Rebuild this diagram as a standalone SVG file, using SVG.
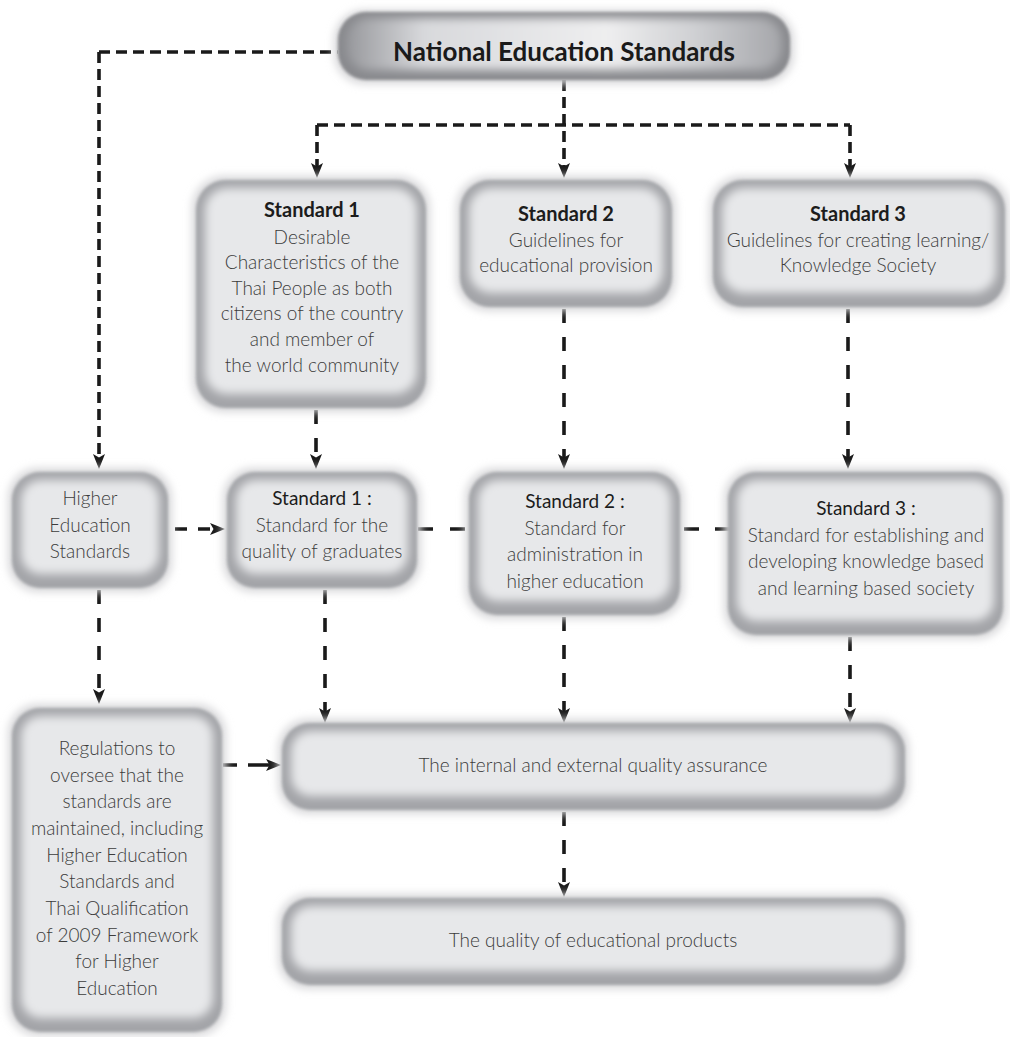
<svg xmlns="http://www.w3.org/2000/svg" width="1010" height="1037" viewBox="0 0 1010 1037">
<style>
.t{font-family:Lato,"Liberation Sans",sans-serif;font-size:19px;font-weight:300;fill:#3c3c3c;text-anchor:middle}
.h{font-weight:700;font-size:20px;fill:#1c1c1c}
.m{font-weight:400;fill:#1c1c1c}
.title{font-family:Lato,"Liberation Sans",sans-serif;font-weight:700;font-size:26px;fill:#1a1a1a;text-anchor:middle}
.glow{fill:#d8d8da;filter:url(#b4)}
.edge{fill:#a3a4a8;filter:url(#b1)}
.face{fill:#e7e8ea;filter:url(#b5)}
.c{fill:none;stroke:#1a1a1a;stroke-width:3.6}
.c1{stroke-dasharray:11 6}
.c2{stroke-dasharray:14 14}
.ar{marker-end:url(#ah)}
</style>
<defs>
<filter id="b1" x="-10%" y="-10%" width="120%" height="120%"><feGaussianBlur stdDeviation="1.5"/></filter>
<filter id="b4" x="-20%" y="-20%" width="140%" height="140%"><feGaussianBlur stdDeviation="4"/></filter>
<filter id="b5" x="-20%" y="-20%" width="140%" height="140%"><feGaussianBlur stdDeviation="5"/></filter>
<linearGradient id="metal" x1="0" y1="0" x2="1" y2="0">
<stop offset="0" stop-color="#97989c"/>
<stop offset="0.18" stop-color="#d8d9dc"/>
<stop offset="0.6" stop-color="#eeeeef"/>
<stop offset="0.8" stop-color="#cfd0d3"/>
<stop offset="1" stop-color="#a5a6aa"/>
</linearGradient>
<marker id="ah" markerUnits="userSpaceOnUse" markerWidth="16" markerHeight="14" refX="6" refY="6.5" orient="auto" viewBox="0 0 16 14">
<path d="M0,0.5 L15,6.5 L0,12.5 L3.5,6.5 Z" fill="#1a1a1a"/>
</marker>
</defs>
<rect width="1010" height="1037" fill="#ffffff"/>

<g id="connectors">
<path class="c c1" d="M99,52 H338"/>
<path class="c c1 ar" d="M99,52 V460"/>
<path class="c c1 ar" d="M564,80 V169"/>
<path class="c c1" d="M317,125 H850"/>
<path class="c c1 ar" d="M317,125 V169"/>
<path class="c c1 ar" d="M850,125 V169"/>
<path class="c c2 ar" d="M316,410 V460"/>
<path class="c c2 ar" d="M564,309 V460"/>
<path class="c c2 ar" d="M848,309 V460"/>
<path class="c ar" style="stroke-dasharray:12 11" d="M175,529 H216"/>
<path class="c" style="stroke-dasharray:15 17" d="M418,529 H468"/>
<path class="c" style="stroke-dasharray:15 16" d="M684,529 H730"/>
<path class="c c2 ar" d="M99,590 V695"/>
<path class="c c2 ar" d="M325,590 V714"/>
<path class="c c2 ar" d="M564,617 V714"/>
<path class="c c2 ar" d="M850,637 V714"/>
<path class="c ar" style="stroke-dasharray:14 11 30" d="M223,765 H272"/>
<path class="c c2 ar" d="M564,812 V888"/>
</g>

<g id="national">
<rect class="glow" x="334" y="10" width="460" height="74" rx="30"/>
<rect x="338" y="12" width="452" height="68" rx="28" fill="#88898d" filter="url(#b1)"/>
<rect x="346" y="18" width="436" height="52" rx="22" fill="url(#metal)" filter="url(#b5)"/>
<text class="title" x="564" y="61">National Education Standards</text>
</g>

<g id="std1-top">
<rect class="glow" x="192" y="176" width="238" height="236" rx="32"/>
<rect class="edge" x="196" y="180" width="230" height="228" rx="30"/>
<rect class="face" x="205" y="188" width="212" height="206" rx="22"/>
<text class="t h" x="312" y="217">Standard 1</text>
<text class="t" x="312" y="244">Desirable</text>
<text class="t" x="312" y="269">Characteristics of the</text>
<text class="t" x="312" y="295">Thai People as both</text>
<text class="t" x="312" y="320">citizens of the country</text>
<text class="t" x="312" y="346">and member of</text>
<text class="t" x="312" y="372">the world community</text>
</g>

<g id="std2-top">
<rect class="glow" x="456" y="176" width="220" height="135" rx="32"/>
<rect class="edge" x="460" y="180" width="212" height="127" rx="30"/>
<rect class="face" x="469" y="188" width="194" height="105" rx="22"/>
<text class="t h" x="566" y="221">Standard 2</text>
<text class="t" x="566" y="247">Guidelines for</text>
<text class="t" x="566" y="272">educational provision</text>
</g>

<g id="std3-top">
<rect class="glow" x="709" y="176" width="300" height="135" rx="32"/>
<rect class="edge" x="713" y="180" width="292" height="127" rx="30"/>
<rect class="face" x="722" y="188" width="274" height="105" rx="22"/>
<text class="t h" x="858" y="221">Standard 3</text>
<text class="t" x="858" y="247">Guidelines for creating learning/</text>
<text class="t" x="858" y="272">Knowledge Society</text>
</g>

<g id="higher-ed">
<rect class="glow" x="8" y="468" width="164" height="124" rx="30"/>
<rect class="edge" x="12" y="472" width="156" height="116" rx="28"/>
<rect class="face" x="21" y="480" width="138" height="94" rx="20"/>
<text class="t" x="90" y="505">Higher</text>
<text class="t" x="90" y="532">Education</text>
<text class="t" x="90" y="558">Standards</text>
</g>

<g id="std1-hes">
<rect class="glow" x="223" y="468" width="198" height="124" rx="30"/>
<rect class="edge" x="227" y="472" width="190" height="116" rx="28"/>
<rect class="face" x="236" y="480" width="172" height="94" rx="20"/>
<text class="t m" x="322" y="505">Standard 1 :</text>
<text class="t" x="322" y="532">Standard for the</text>
<text class="t" x="322" y="558">quality of graduates</text>
</g>

<g id="std2-hes">
<rect class="glow" x="465" y="468" width="219" height="151" rx="30"/>
<rect class="edge" x="469" y="472" width="211" height="143" rx="28"/>
<rect class="face" x="478" y="480" width="193" height="121" rx="20"/>
<text class="t m" x="575" y="508">Standard 2 :</text>
<text class="t" x="575" y="535">Standard for</text>
<text class="t" x="575" y="561">administration in</text>
<text class="t" x="575" y="588">higher education</text>
</g>

<g id="std3-hes">
<rect class="glow" x="724" y="468" width="283" height="171" rx="30"/>
<rect class="edge" x="728" y="472" width="275" height="163" rx="28"/>
<rect class="face" x="737" y="480" width="257" height="141" rx="20"/>
<text class="t m" x="866" y="515">Standard 3 :</text>
<text class="t" x="866" y="542">Standard for establishing and</text>
<text class="t" x="866" y="568">developing knowledge based</text>
<text class="t" x="866" y="595">and learning based society</text>
</g>

<g id="regulations">
<rect class="glow" x="8" y="704" width="218" height="332" rx="30"/>
<rect class="edge" x="12" y="708" width="210" height="324" rx="28"/>
<rect class="face" x="21" y="716" width="192" height="302" rx="20"/>
<text class="t" x="117" y="755">Regulations to</text>
<text class="t" x="117" y="782">oversee that the</text>
<text class="t" x="117" y="808">standards are</text>
<text class="t" x="117" y="835">maintained, including</text>
<text class="t" x="117" y="862">Higher Education</text>
<text class="t" x="117" y="888">Standards and</text>
<text class="t" x="117" y="915">Thai Qualification</text>
<text class="t" x="117" y="942">of 2009 Framework</text>
<text class="t" x="117" y="968">for Higher</text>
<text class="t" x="117" y="995">Education</text>
</g>

<g id="qa">
<rect class="glow" x="278" y="719" width="631" height="95" rx="30"/>
<rect class="edge" x="282" y="723" width="623" height="87" rx="28"/>
<rect class="face" x="291" y="731" width="605" height="65" rx="20"/>
<text class="t" x="593" y="772">The internal and external quality assurance</text>
</g>

<g id="quality">
<rect class="glow" x="278" y="894" width="631" height="95" rx="30"/>
<rect class="edge" x="282" y="898" width="623" height="87" rx="28"/>
<rect class="face" x="291" y="906" width="605" height="65" rx="20"/>
<text class="t" x="593" y="947">The quality of educational products</text>
</g>
</svg>
